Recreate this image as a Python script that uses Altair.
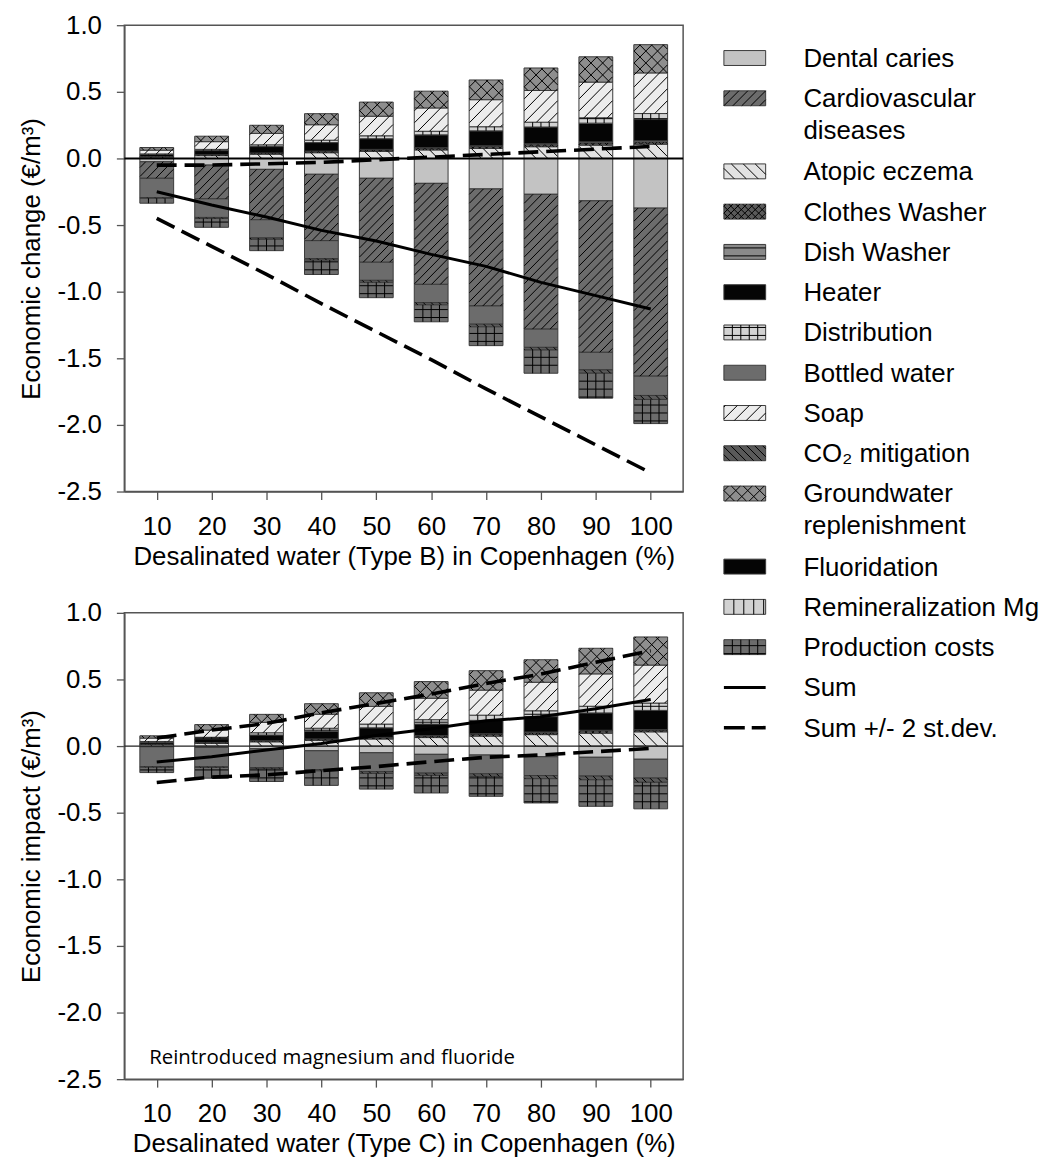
import altair as alt
import numpy as np
import pandas as pd

# ---------------- data ----------------
pct = [10, 20, 30, 40, 50, 60, 70, 80, 90, 100]

categories = ["Dental caries", "Cardiovascular diseases", "Atopic eczema", "Clothes Washer",
              "Dish Washer", "Heater", "Distribution", "Bottled water", "Soap", "CO₂ mitigation",
              "Groundwater replenishment", "Fluoridation", "Remineralization Mg", "Production costs"]
legend_labels = ["Dental caries", "Cardiovascular\ndiseases", "Atopic eczema", "Clothes Washer",
                 "Dish Washer", "Heater", "Distribution", "Bottled water", "Soap", "CO₂ mitigation",
                 "Groundwater\nreplenishment", "Fluoridation", "Remineralization Mg", "Production costs",
                 "Sum", "Sum +/- 2 st.dev."]

# Type B (top panel)
b_dental = [-0.025, -0.050, -0.082, -0.119, -0.149, -0.187, -0.229, -0.269, -0.318, -0.373]
b_cardio = [-0.124, -0.253, -0.378, -0.498, -0.630, -0.758, -0.878, -1.012, -1.137, -1.261]
b_atopic = [0.011, 0.021, 0.032, 0.043, 0.053, 0.064, 0.075, 0.088, 0.100, 0.107]
b_clothes = [0.002, 0.004, 0.006, 0.008, 0.010, 0.011, 0.013, 0.015, 0.016, 0.015]
b_dish = [0.001, 0.002, 0.003, 0.004, 0.005, 0.006, 0.007, 0.008, 0.009, 0.010]
b_heater = [0.016, 0.032, 0.048, 0.064, 0.080, 0.096, 0.112, 0.125, 0.140, 0.160]
b_distribution = [0.004, 0.009, 0.013, 0.018, 0.022, 0.027, 0.031, 0.036, 0.040, 0.045]
b_bottled = [-0.145, -0.140, -0.137, -0.134, -0.136, -0.137, -0.137, -0.137, -0.132, -0.145]
b_soap = [0.028, 0.058, 0.086, 0.116, 0.147, 0.175, 0.203, 0.238, 0.268, 0.305]
b_co2 = [-0.005, -0.008, -0.010, -0.012, -0.015, -0.017, -0.020, -0.020, -0.025, -0.030]
b_groundwater = [0.020, 0.041, 0.061, 0.083, 0.106, 0.126, 0.148, 0.169, 0.190, 0.212]
b_fluoridation = [0, 0, 0, 0, 0, 0, 0, 0, 0, 0]
b_remin = [0, 0, 0, 0, 0, 0, 0, 0, 0, 0]
b_production = [-0.037, -0.066, -0.085, -0.108, -0.115, -0.127, -0.141, -0.174, -0.187, -0.181]
b_sum = [-0.25, -0.35, -0.44, -0.54, -0.62, -0.72, -0.81, -0.93, -1.03, -1.13]
b_upper = [-0.05, -0.05, -0.04, -0.03, -0.01, 0.01, 0.03, 0.05, 0.07, 0.09]
b_lower = [-0.45, -0.66, -0.87, -1.09, -1.30, -1.51, -1.73, -1.94, -2.15, -2.36]

# Type C (bottom panel)
c_dental = [-0.005, -0.010, -0.020, -0.035, -0.050, -0.062, -0.067, -0.080, -0.084, -0.099]
c_cardio = [0, 0, 0, 0, 0, 0, 0, 0, 0, 0]
c_atopic = [0.011, 0.021, 0.032, 0.043, 0.053, 0.064, 0.075, 0.086, 0.097, 0.107]
c_clothes = [0.002, 0.003, 0.005, 0.007, 0.008, 0.010, 0.012, 0.013, 0.015, 0.010]
c_dish = [0.001, 0.002, 0.003, 0.004, 0.004, 0.005, 0.006, 0.007, 0.007, 0.007]
c_heater = [0.014, 0.029, 0.043, 0.058, 0.072, 0.086, 0.100, 0.115, 0.130, 0.144]
c_distribution = [0.006, 0.011, 0.017, 0.022, 0.028, 0.033, 0.039, 0.044, 0.050, 0.055]
c_bottled = [-0.150, -0.145, -0.142, -0.141, -0.141, -0.141, -0.141, -0.141, -0.141, -0.141]
c_soap = [0.026, 0.054, 0.078, 0.105, 0.133, 0.161, 0.188, 0.214, 0.243, 0.285]
c_co2 = [-0.004, -0.006, -0.008, -0.010, -0.014, -0.017, -0.020, -0.024, -0.028, -0.032]
c_groundwater = [0.017, 0.041, 0.060, 0.079, 0.102, 0.125, 0.146, 0.169, 0.192, 0.211]
c_fluoridation = [0, 0, 0, 0, 0, 0, 0, 0, 0, 0]
c_remin = [0, 0, 0, 0, 0, 0, 0, 0, 0, 0]
c_production = [-0.040, -0.080, -0.096, -0.109, -0.118, -0.132, -0.149, -0.182, -0.199, -0.199]
c_sum = [-0.12, -0.08, -0.03, 0.02, 0.08, 0.13, 0.19, 0.22, 0.28, 0.35]
c_upper = [0.06, 0.12, 0.17, 0.25, 0.32, 0.39, 0.47, 0.54, 0.63, 0.715]
c_lower = [-0.273, -0.233, -0.216, -0.184, -0.154, -0.117, -0.084, -0.067, -0.042, -0.017]

y_ticks = [-2.5, -2.0, -1.5, -1.0, -0.5, 0.0, 0.5, 1.0]

series_b = [b_dental, b_cardio, b_atopic, b_clothes, b_dish, b_heater, b_distribution, b_bottled,
            b_soap, b_co2, b_groundwater, b_fluoridation, b_remin, b_production]
series_c = [c_dental, c_cardio, c_atopic, c_clothes, c_dish, c_heater, c_distribution, c_bottled,
            c_soap, c_co2, c_groundwater, c_fluoridation, c_remin, c_production]

# ---------------- styles ----------------
FONT = "Liberation Sans"
FS = 26
fills = ["#c3c3c3", "#6c6c6c", "#e2e2e2", "#5a5a5a", "#8a8a8a", "#050505", "#d2d2d2",
         "#6c6c6c", "#ececec", "#5a5a5a", "#8e8e8e", "#050505", "#d2d2d2", "#6c6c6c"]
hatch_style = {
    "Cardiovascular diseases": [("fwd", 9)],
    "Atopic eczema": [("back", 12)],
    "Clothes Washer": [("fwd", 7), ("back", 7)],
    "Dish Washer": [("h", 8)],
    "Distribution": [("h", 8), ("v", 8.5)],
    "Soap": [("fwd", 12)],
    "CO₂ mitigation": [("back", 8)],
    "Groundwater replenishment": [("fwd", 12), ("back", 12)],
    "Remineralization Mg": [("v", 10)],
    "Production costs": [("h", 8), ("v", 8.5)],
}

PW, PH = 562, 469
XDOM = [5, 105]
YDOM = [-2.5, 1.0]
SX = PW / (XDOM[1] - XDOM[0])
SY = PH / (YDOM[1] - YDOM[0])
BARW = 34
HALF = BARW / 2 / SX


def hatch_lines(x0, x1, y0, y1, cat, sx, sy, ydown=False):
    out = []
    lo, hi = min(y0, y1), max(y0, y1)
    W = x1 - x0
    if W <= 0 or hi - lo < 1e-9:
        return out
    for part, sp in hatch_style.get(cat, []):
        if part in ("fwd", "back"):
            vis = 1 if part == "fwd" else -1
            sign = -vis if ydown else vis
            s = sign * sx / sy
            step = sp / sy
            span = abs(s) * W
            k0 = int(np.floor((lo - span) / step)) - 1
            k1 = int(np.ceil((hi + span) / step)) + 1
            for k in range(k0, k1 + 1):
                c = k * step
                xa_lo = x0 + (lo - c) / s
                xa_hi = x0 + (hi - c) / s
                xa = max(x0, min(xa_lo, xa_hi))
                xb = min(x1, max(xa_lo, xa_hi))
                if xb - xa > 1e-9:
                    out.append((xa, c + s * (xa - x0), xb, c + s * (xb - x0)))
        elif part == "h":
            step = sp / sy
            k0 = int(np.floor(lo / step))
            k1 = int(np.ceil(hi / step))
            for k in range(k0, k1 + 1):
                yy = k * step
                if lo + 0.5 / sy < yy < hi - 0.5 / sy:
                    out.append((x0, yy, x1, yy))
        elif part == "v":
            step = sp / sx
            j = 1
            while x0 + j * step < x1 - 0.5 / sx:
                xx = x0 + j * step
                out.append((xx, lo, xx, hi))
                j += 1
    return out


def stack(series):
    rows = []
    for i, p in enumerate(pct):
        pos, neg = 0.0, 0.0
        for cat, vals in zip(categories, series):
            v = vals[i]
            if v == 0:
                continue
            if v > 0:
                y0, y1 = pos, pos + v
                pos = y1
            else:
                y0, y1 = neg, neg + v
                neg = y1
            rows.append(dict(pct=p, cat=cat, value=v, y0=y0, y1=y1))
    return pd.DataFrame(rows)


def hatch_df(bars):
    rows = []
    for r in bars.to_dict("records"):
        for (a, b, c, d) in hatch_lines(r["pct"] - HALF, r["pct"] + HALF, r["y0"], r["y1"],
                                        r["cat"], SX, SY):
            rows.append(dict(hx0=a, hy0=b, hx1=c, hy1=d))
    return pd.DataFrame(rows)


xscale = alt.Scale(domain=XDOM, nice=False, zero=False)
yscale = alt.Scale(domain=YDOM, nice=False, zero=False)
fill_scale = alt.Scale(domain=categories, range=fills)


def panel(series, s_sum, s_up, s_lo, ytitle, xtitle, zero_w, zero_c, note=None):
    bars = stack(series)
    hat = hatch_df(bars)
    xaxis = alt.Axis(values=pct, format="d", title=xtitle, labelFont=FONT, labelFontSize=FS,
                     titleFont=FONT, titleFontSize=FS, titleFontWeight="normal", labelColor="black",
                     titleColor="black", tickColor="#555", domainColor="#555", tickSize=8,
                     tickWidth=1.3, domainWidth=1.5, grid=False, labelPadding=14, titlePadding=4,
                     labelFlush=False)
    yaxis = alt.Axis(values=y_ticks, title=ytitle,
                     labelExpr="replace(format(datum.value, '.1f'), '\u2212', '-')",
                     labelFont=FONT, labelFontSize=FS, titleFont=FONT, titleFontSize=FS,
                     titleFontWeight="normal", labelColor="black", titleColor="black",
                     tickColor="#555", domainColor="#555", tickSize=8, tickWidth=1.3,
                     domainWidth=1.5, grid=False, labelPadding=15, titlePadding=13)

    lines = pd.DataFrame({"pct": pct * 3,
                          "value": s_sum + s_up + s_lo,
                          "series": ["sum"] * 10 + ["up"] * 10 + ["lo"] * 10})

    bar_layer = alt.Chart(bars).mark_bar(size=BARW, stroke="#3a3a3a", strokeWidth=1).encode(
        x=alt.X("pct:Q", scale=xscale, axis=xaxis),
        y=alt.Y("y0:Q", scale=yscale, axis=yaxis),
        y2="y1:Q",
        fill=alt.Fill("cat:N", scale=fill_scale, legend=None),
    )
    hatch_layer = alt.Chart(hat).mark_rule(color="black", strokeWidth=1).encode(
        x=alt.X("hx0:Q", scale=xscale, axis=xaxis),
        x2="hx1:Q",
        y=alt.Y("hy0:Q", scale=yscale, axis=yaxis),
        y2="hy1:Q",
    )
    zero_layer = alt.Chart(pd.DataFrame({"zero": [0.0]})).mark_rule(
        color=zero_c, strokeWidth=zero_w).encode(
        y=alt.Y("zero:Q", scale=yscale, axis=yaxis))
    sum_layer = alt.Chart(lines).transform_filter("datum.series == 'sum'").mark_line(
        color="black", strokeWidth=3).encode(
        x=alt.X("pct:Q", scale=xscale, axis=xaxis),
        y=alt.Y("value:Q", scale=yscale, axis=yaxis))
    dash_layer = alt.Chart(lines).transform_filter("datum.series != 'sum'").mark_line(
        color="black", strokeWidth=3.6, strokeDash=[20, 8]).encode(
        x=alt.X("pct:Q", scale=xscale, axis=xaxis),
        y=alt.Y("value:Q", scale=yscale, axis=yaxis),
        detail="series:N")
    layers = [bar_layer, hatch_layer, zero_layer, sum_layer, dash_layer]
    if note:
        layers.append(alt.Chart(pd.DataFrame({"t": [note]})).mark_text(
            align="left", baseline="alphabetic", font="Open Sans", fontSize=20.5,
            color="black").encode(text="t:N", x=alt.value(25), y=alt.value(454)))
    return alt.layer(*layers).properties(
        width=PW, height=PH, view=alt.ViewBackground(stroke="#555", strokeWidth=1.5))


top = panel(series_b, b_sum, b_upper, b_lower, "Economic change (€/m³)",
            "Desalinated water (Type B) in Copenhagen (%)", 2, "black")
bottom = panel(series_c, c_sum, c_upper, c_lower, "Economic impact (€/m³)",
               "Desalinated water (Type C) in Copenhagen (%)", 1.2, "#222",
               note="Reintroduced magnesium and fluoride")

# ---------------- custom legend ----------------
LW, LH = 350, 740
LEG_TOP, LEG_ROW, LEG_EXTRA = 33, 40.5, 33
SW_X0, SW_X1, SW_H, TXT_X = 18, 60, 15, 98
kinds = ["bar"] * len(categories) + ["line", "dash"]
cats = categories + ["Sum", "Sum +/- 2 st.dev."]
ypos = []
yy = LEG_TOP
for lab in legend_labels:
    ypos.append(yy)
    yy += LEG_ROW + LEG_EXTRA * lab.count("\n")
leg = pd.DataFrame({"label": legend_labels, "cat": cats, "kind": kinds, "yc": ypos})
leg["lx0"] = SW_X0
leg["lx1"] = SW_X1
leg["ly0"] = leg["yc"] - SW_H / 2
leg["ly1"] = leg["yc"] + SW_H / 2
leg["tx"] = TXT_X

lrows = []
for r in leg[leg["kind"] == "bar"].to_dict("records"):
    for (a, b, c, d) in hatch_lines(r["lx0"], r["lx1"], r["ly0"], r["ly1"], r["cat"],
                                    1.0, 1.0, ydown=True):
        lrows.append(dict(hx0=a, hy0=b, hx1=c, hy1=d))
leg_hatch = pd.DataFrame(lrows)

lx = alt.Scale(domain=[0, LW], nice=False, zero=False)
ly = alt.Scale(domain=[0, LH], nice=False, zero=False, reverse=True)

sw = alt.Chart(leg).transform_filter("datum.kind == 'bar'").mark_rect(
    stroke="#3a3a3a", strokeWidth=1).encode(
    x=alt.X("lx0:Q", scale=lx, axis=None), x2="lx1:Q",
    y=alt.Y("ly0:Q", scale=ly, axis=None), y2="ly1:Q",
    fill=alt.Fill("cat:N", scale=fill_scale, legend=None))
swh = alt.Chart(leg_hatch).mark_rule(color="black", strokeWidth=1).encode(
    x=alt.X("hx0:Q", scale=lx, axis=None), x2="hx1:Q",
    y=alt.Y("hy0:Q", scale=ly, axis=None), y2="hy1:Q")
sl = alt.Chart(leg).transform_filter("datum.kind == 'line'").mark_rule(
    color="black", strokeWidth=3).encode(
    x=alt.X("lx0:Q", scale=lx, axis=None), x2="lx1:Q",
    y=alt.Y("yc:Q", scale=ly, axis=None))
sd = alt.Chart(leg).transform_filter("datum.kind == 'dash'").mark_rule(
    color="black", strokeWidth=3.6, strokeDash=[21, 7]).encode(
    x=alt.X("lx0:Q", scale=lx, axis=None), x2="lx1:Q",
    y=alt.Y("yc:Q", scale=ly, axis=None))
txt = alt.Chart(leg).mark_text(align="left", baseline="alphabetic", dy=9, font=FONT,
                               fontSize=FS, lineBreak="\n", lineHeight=32, color="black").encode(
    x=alt.X("tx:Q", scale=lx, axis=None),
    y=alt.Y("yc:Q", scale=ly, axis=None),
    text="label:N")
legend = alt.layer(sw, swh, sl, sd, txt).properties(
    width=LW, height=LH, view=alt.ViewBackground(stroke="transparent"))

chart = alt.hconcat(alt.vconcat(top, bottom, spacing=29), legend, spacing=20).properties(
    padding={"left": 9, "top": 0, "right": 0, "bottom": 0},
    background="white",
)

chart.save("out.html", embed_options={"renderer": "svg", "actions": False})
